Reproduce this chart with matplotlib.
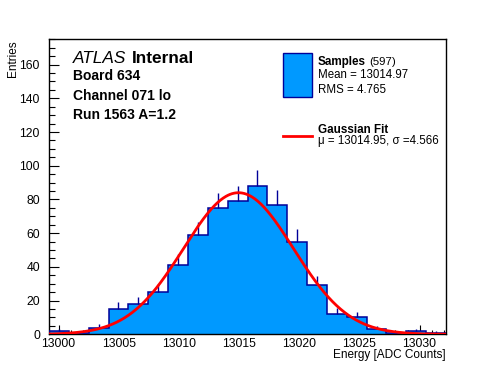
import numpy as np
import matplotlib
matplotlib.use("Agg")
import matplotlib.pyplot as plt
from matplotlib.patches import Rectangle
from matplotlib.lines import Line2D

# histogram binning and contents
hist_lo = 12999.2
hist_hi = 13032.2
counts = [2, 1, 4, 15, 18, 25, 41, 59, 75, 79, 88, 77, 55, 29, 12, 10, 3, 1, 2, 1]

# gaussian fit result
fit_mu = 13014.95
fit_sigma = 4.566
fit_amp = 84.0

n_samples = 597
sample_mean = 13014.97
sample_rms = 4.765

info_lines = ["Board 634", "Channel 071 lo", "Run 1563 A=1.2"]

W, H = 496, 372
FILL = "#0099ff"
EDGE = "#000099"


def px(x, y):
    # pixel position (from top-left) -> figure fraction
    return x / W, 1 - y / H


def draw_hist(ax):
    edges = np.linspace(hist_lo, hist_hi, len(counts) + 1)
    vals = np.array(counts, dtype=float)
    centers = 0.5 * (edges[:-1] + edges[1:])

    ax.stairs(vals, edges, fill=True, color=FILL, zorder=2)
    ax.stairs(vals, edges, baseline=0, color=EDGE, lw=1.1, zorder=3)
    ax.vlines(centers, vals, vals + np.sqrt(vals), color=EDGE, lw=1.0, zorder=3)

    xs = np.linspace(hist_lo, hist_hi, 400)
    ax.plot(xs, fit_amp * np.exp(-0.5 * ((xs - fit_mu) / fit_sigma) ** 2),
            color="red", lw=2.0, zorder=4)

    ax.set_xlim(hist_lo, hist_hi)
    ax.set_ylim(0, 175.2)


def style_axes(ax):
    ax.set_xticks(np.arange(13000, 13031, 5))
    ax.set_xticks(np.arange(13000, 13033, 1), minor=True)
    ax.set_yticks(np.arange(0, 161, 20))
    ax.set_yticks(np.arange(0, 176, 5), minor=True)
    ax.xaxis.set_major_formatter(matplotlib.ticker.FormatStrFormatter("%d"))
    ax.tick_params(which="both", direction="in", top=False, right=False,
                   labelsize=8.7, width=0.8)
    ax.tick_params(axis="x", which="major", length=6.5, pad=2.5)
    ax.tick_params(axis="x", which="minor", length=3.2)
    ax.tick_params(axis="y", which="major", length=7, pad=6.5)
    ax.tick_params(axis="y", which="minor", length=4)
    for s in ax.spines.values():
        s.set_linewidth(1.0)


def draw_text(fig):
    fig.text(*px(13, 40), "Entries", rotation=90, ha="center", va="top", fontsize=8.5)
    fig.text(*px(446, 358), "Energy [ADC Counts]", ha="right", va="baseline", fontsize=8.5)

    fig.text(*px(73, 63.3), "ATLAS", style="italic", fontsize=12.4, va="baseline")
    fig.text(*px(132.3, 63.3), "Internal", weight="bold", fontsize=12.4, va="baseline")
    for i, line in enumerate(info_lines):
        fig.text(*px(73, 80 + 19.6 * i), line, weight="bold", fontsize=10, va="baseline")

    # legend
    x0, y0 = px(283.3, 96.7)
    x1, y1 = px(311.7, 53.3)
    fig.add_artist(Rectangle((x0, y0), x1 - x0, y1 - y0, transform=fig.transFigure,
                             facecolor=FILL, edgecolor=EDGE, lw=1.0))
    lx0, ly = px(283.3, 136)
    lx1, _ = px(311.7, 136)
    fig.add_artist(Line2D([lx0, lx1], [ly, ly], transform=fig.transFigure,
                          color="red", lw=2.0))

    fig.text(*px(317.7, 65), "Samples", weight="bold", fontsize=8.4, va="baseline")
    fig.text(*px(369.3, 65), f"({n_samples})", fontsize=8.2, va="baseline")
    fig.text(*px(317.7, 78.3), f"Mean = {sample_mean:.2f}", fontsize=8.3, va="baseline")
    fig.text(*px(317.7, 93.3), f"RMS = {sample_rms:.3f}", fontsize=8.3, va="baseline")
    fig.text(*px(317.7, 132.7), "Gaussian Fit", weight="bold", fontsize=8.4, va="baseline")
    fig.text(*px(317.7, 144), f"\u03bc = {fit_mu:.2f}, \u03c3 ={fit_sigma:.3f}",
             fontsize=8.3, va="baseline")


def main():
    plt.rcParams["font.family"] = ["Liberation Sans", "DejaVu Sans"]
    fig = plt.figure(figsize=(W / 100, H / 100), dpi=100)
    ax = fig.add_axes([49 / W, 1 - 334.3 / H, (446 - 49) / W, (334.3 - 39) / H])

    draw_hist(ax)
    style_axes(ax)
    draw_text(fig)

    fig.savefig("out.png", dpi=100)


if __name__ == "__main__":
    main()
